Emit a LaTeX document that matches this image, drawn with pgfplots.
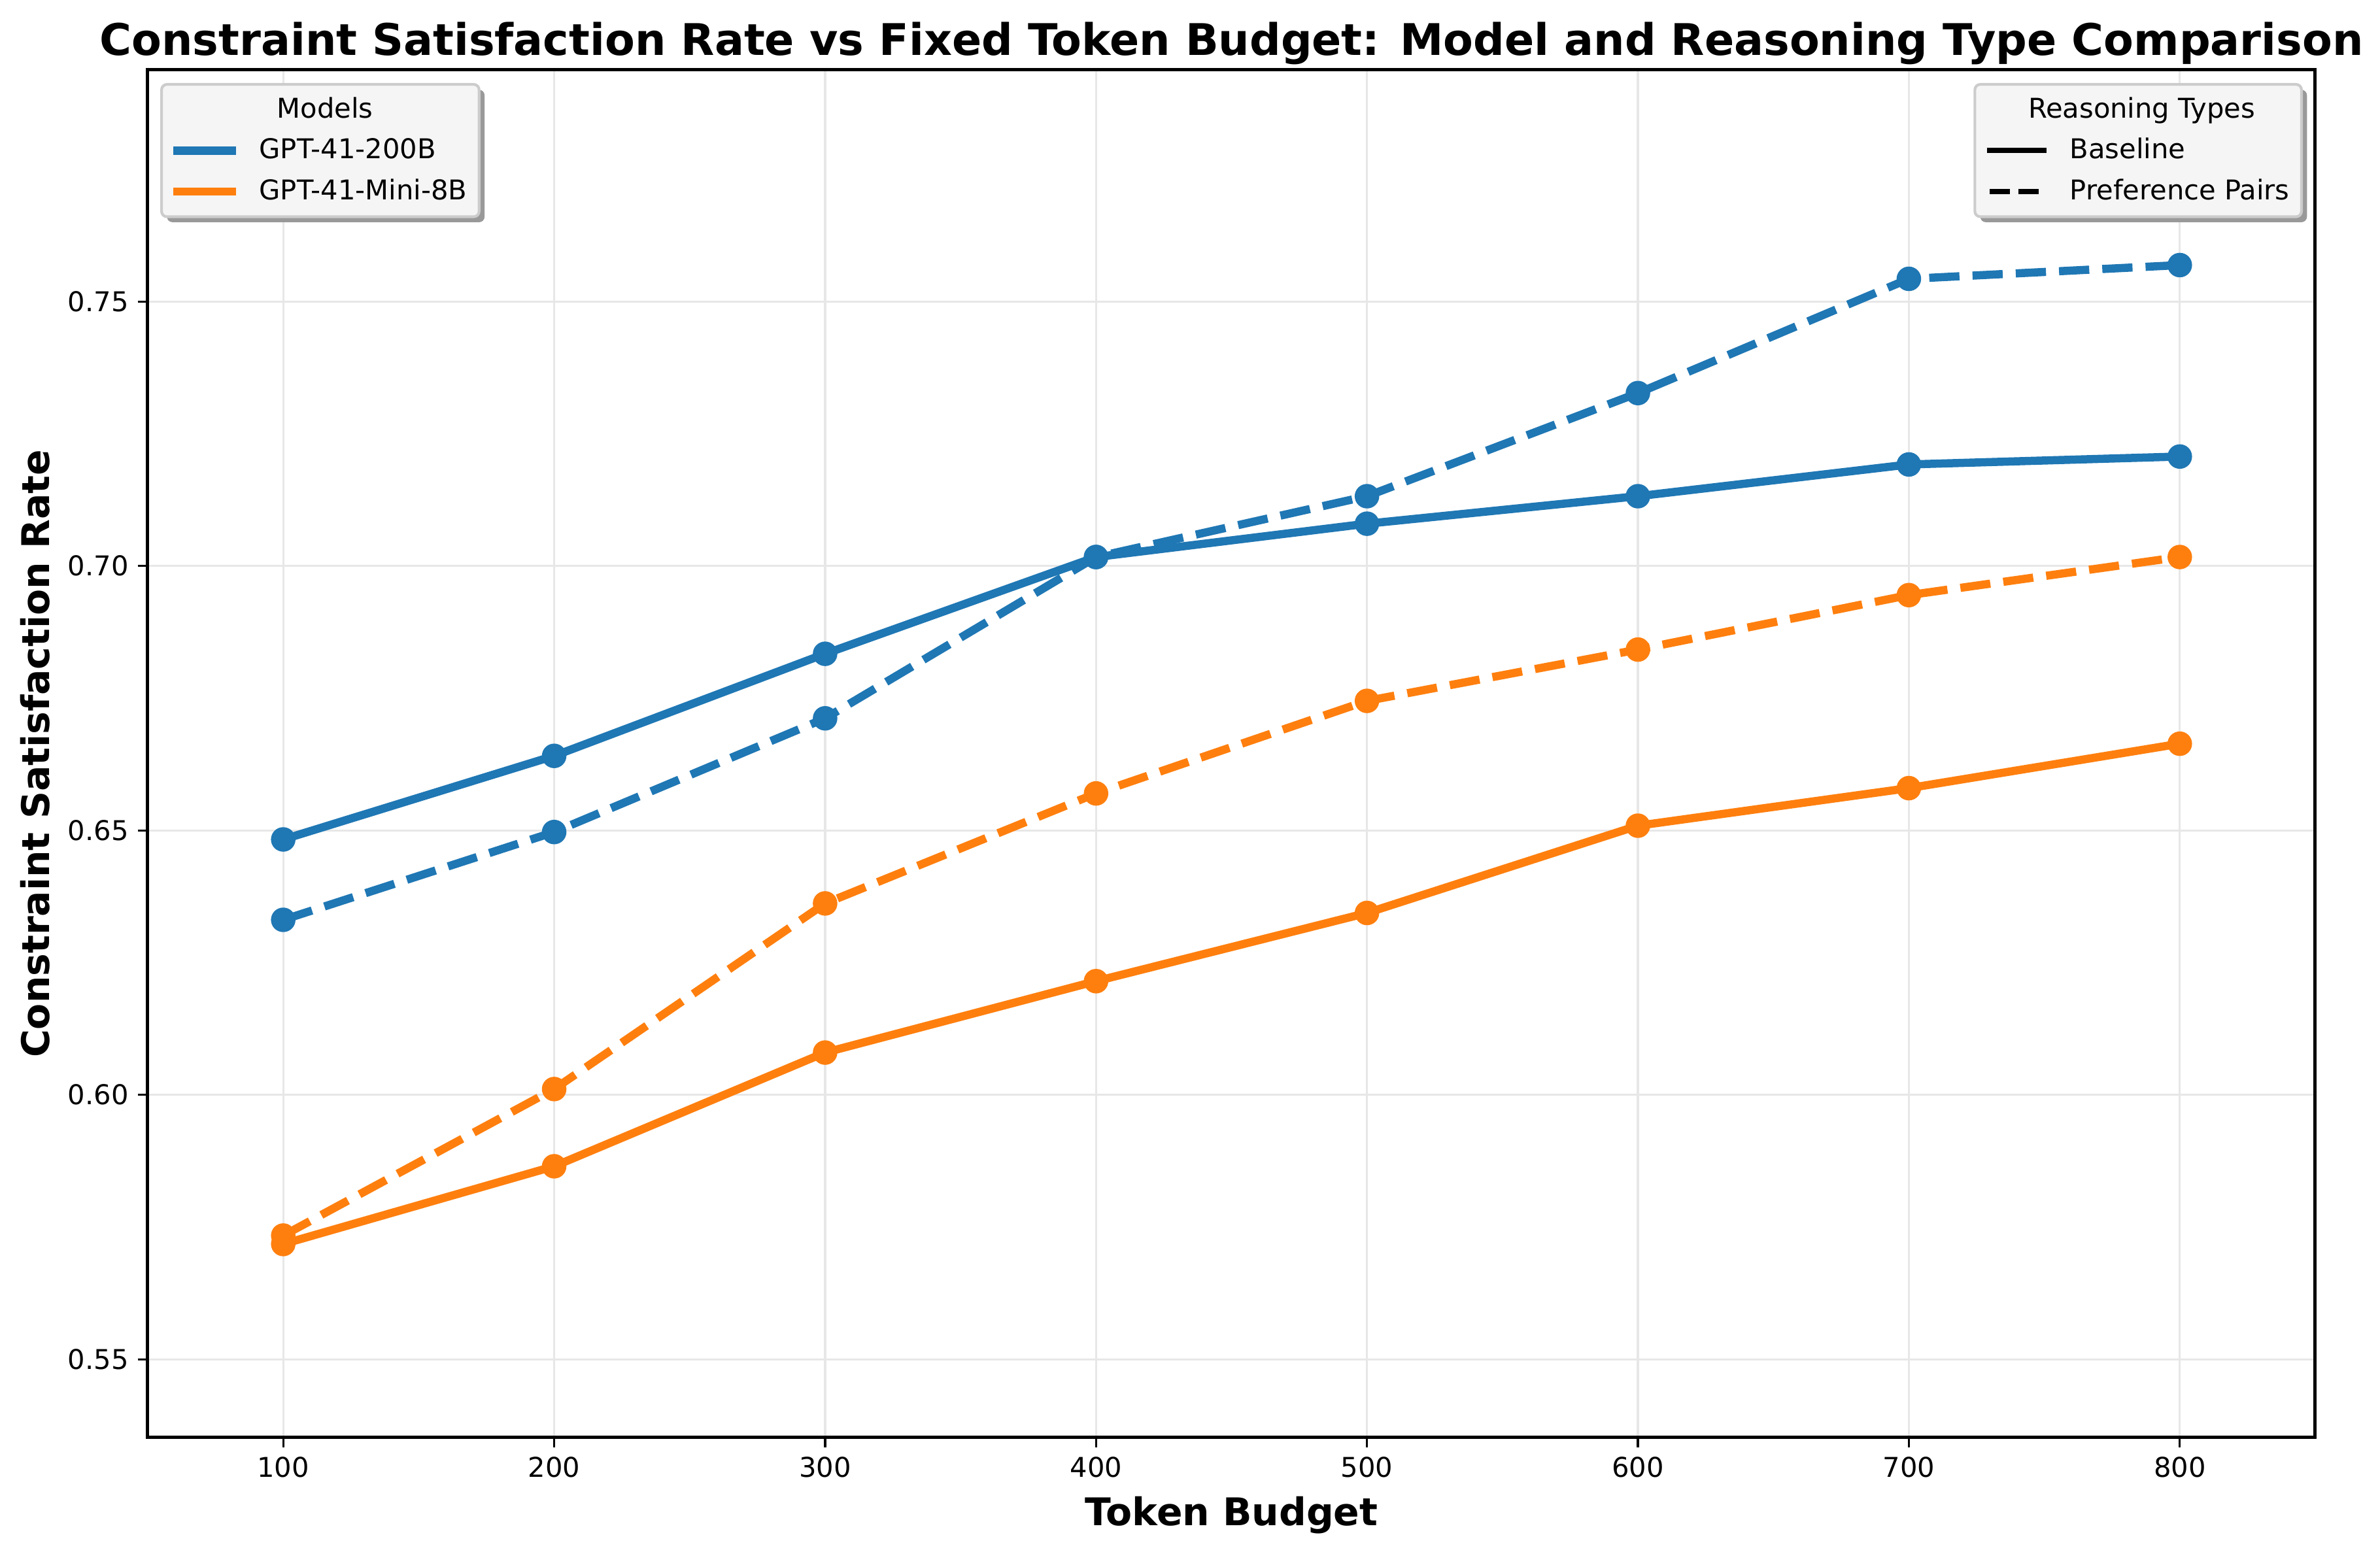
\documentclass[border=0pt]{standalone}
\usepackage{pgfplots}
\pgfplotsset{compat=1.18}
\usepackage{fontspec}
\setmainfont{DejaVu Sans}
\usetikzlibrary{shadows}

\definecolor{c1}{HTML}{1F77B4}
\definecolor{c2}{HTML}{FF7F0E}
\definecolor{legfill}{HTML}{F5F5F5}
\definecolor{legedge}{HTML}{CCCCCC}

% legend lines must not inherit the frame's shadow
\makeatletter
\tikzset{no preaction/.code={\let\tikz@preactions\pgfutil@empty}}
\makeatother

\pgfplotsset{
  base/.style={
    at={(0,0)}, anchor=south west,
    scale only axis, width=795.6pt, height=502.08pt,
    xmin=50, xmax=850, ymin=0.5352, ymax=0.7938,
    legend cell align=left,
    legend image code/.code={\draw[no preaction, rounded corners=0pt, ##1] (0pt,3pt) -- (20pt,3pt);},
    legend style={
      cells={anchor=base west},
      nodes={inner sep=0pt, text height=8pt, text depth=2pt},
      inner xsep=4.4pt, inner ysep=4.3pt,
      row sep=5pt, column sep=8.5pt,
      fill=legfill, draw=legedge, line width=1pt, rounded corners=2pt,
      drop shadow={shadow xshift=2pt, shadow yshift=-2pt, fill=black!40, opacity=1},
      font=\fontsize{10}{12}\selectfont,
    },
  },
}

\begin{document}
\begin{tikzpicture}
\useasboundingbox (-54.24pt,-42pt) rectangle (819.36pt,527.76pt);

\begin{axis}[
  base,
  xtick={100,200,...,800},
  ytick={0.55,0.60,0.65,0.70,0.75},
  /pgf/number format/assume math mode=true,
  yticklabel style={/pgf/number format/.cd, fixed, fixed zerofill, precision=2},
  xticklabel style={/pgf/number format/.cd, fixed, precision=0},
  ticklabel style={font=\fontsize{10}{12}\selectfont},
  tick align=outside, tick pos=left,
  major tick length=3.5pt,
  tick style={black, line width=0.8pt},
  axis line style={line width=1.2pt},
  grid=major,
  major grid style={line width=0.8pt, color=black!9.5},
  every axis title shift=0pt,
  title={Constraint Satisfaction Rate vs Fixed Token Budget: Model and Reasoning Type Comparison},
  title style={at={(axis description cs:0.5,1.01056)}, anchor=base, font=\bfseries\fontsize{16}{19}\selectfont},
  xlabel={Token Budget},
  xlabel style={at={(axis description cs:0.5,-0.0641)}, anchor=base, font=\bfseries\fontsize{14}{17}\selectfont},
  ylabel={Constraint Satisfaction Rate},
  ylabel style={at={(axis description cs:-0.0455,0.5)}, anchor=base, font=\bfseries\fontsize{14}{17}\selectfont},
  legend style={at={(axis description cs:0.00573,0.99044)}, anchor=north west},
  every axis plot/.append style={line width=3pt, line join=round, mark=*, mark size=4pt},
]
% GPT-41-200B
\addplot[c1, forget plot, mark options={solid, fill=c1, line width=1pt}] coordinates {
  (100,0.6483) (200,0.6641) (300,0.6834) (400,0.7017) (500,0.7080) (600,0.7132) (700,0.7192) (800,0.7207)};
\addplot[c1, forget plot, dash pattern=on 11.1pt off 4.8pt, mark options={solid, fill=c1, line width=1pt}] coordinates {
  (100,0.6331) (200,0.6497) (300,0.6712) (400,0.7017) (500,0.7132) (600,0.7327) (700,0.7543) (800,0.7569)};
% GPT-41-Mini-8B
\addplot[c2, forget plot, mark options={solid, fill=c2, line width=1pt}] coordinates {
  (100,0.5718) (200,0.5865) (300,0.6080) (400,0.6215) (500,0.6344) (600,0.6509) (700,0.6580) (800,0.6664)};
\addplot[c2, forget plot, dash pattern=on 11.1pt off 4.8pt, mark options={solid, fill=c2, line width=1pt}] coordinates {
  (100,0.5734) (200,0.6011) (300,0.6362) (400,0.6570) (500,0.6745) (600,0.6842) (700,0.6945) (800,0.7017)};

\addlegendimage{empty legend}
\addlegendentry{\hspace*{6.5pt}Models}
\addlegendimage{c1, line width=3pt, line cap=rect}
\addlegendentry{GPT-41-200B}
\addlegendimage{c2, line width=3pt, line cap=rect}
\addlegendentry{GPT-41-Mini-8B}
\end{axis}

\begin{axis}[
  base,
  hide axis,
  legend style={at={(axis description cs:0.99427,0.99044)}, anchor=north east},
]
\addlegendimage{empty legend}
\addlegendentry{\hspace*{-15.3pt}Reasoning Types}
\addlegendimage{black, line width=2pt, line cap=rect}
\addlegendentry{Baseline}
\addlegendimage{black, line width=2pt, dash pattern=on 7.4pt off 3.2pt}
\addlegendentry{Preference Pairs}
\end{axis}
\end{tikzpicture}
\end{document}
